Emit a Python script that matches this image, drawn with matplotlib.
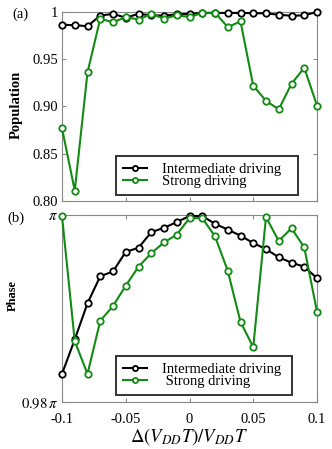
import matplotlib
matplotlib.use("Agg")
import matplotlib.pyplot as plt
import numpy as np

plt.rcParams['font.family'] = ['Liberation Serif', 'DejaVu Serif']
plt.rcParams['mathtext.fontset'] = 'stix'

x = [-0.10, -0.09, -0.08, -0.07, -0.06, -0.05, -0.04, -0.03, -0.02, -0.01, 0.0,
     0.01, 0.02, 0.03, 0.04, 0.05, 0.06, 0.07, 0.08, 0.09, 0.10]

pop_intermediate = [0.9866, 0.9860, 0.9850, 0.9962, 0.9980, 0.9940, 0.9980, 0.9965,
                    0.9962, 0.9975, 0.9980, 0.9990, 0.9990, 0.9990, 0.9990, 0.9988,
                    0.9985, 0.9972, 0.9960, 0.9965, 1.0000]
pop_strong = [0.877, 0.811, 0.936, 0.993, 0.989, 0.9947, 0.992, 0.998, 0.993, 0.9965,
              0.9947, 0.999, 0.9993, 0.984, 0.990, 0.922, 0.906, 0.897, 0.924, 0.941, 0.901]

# phase in units of pi
phase_intermediate = [0.9830, 0.98669, 0.99056, 0.99345, 0.99396, 0.99606, 0.99649,
                      0.99816, 0.99863, 0.99924, 0.99989, 0.99989, 0.99906, 0.99844,
                      0.99779, 0.99700, 0.99635, 0.99548, 0.99490, 0.99447, 0.99324]
phase_strong = [0.99989, 0.98651, 0.98300, 0.98868, 0.99027, 0.99244, 0.99447, 0.99591,
                0.99707, 0.99790, 0.99967, 0.99967, 0.99772, 0.99403, 0.98857, 0.98586,
                0.99978, 0.99722, 0.99859, 0.99653, 0.98966]

labels = ['Intermediate driving', 'Strong driving']
black = 'black'
green = '#138a13'

W, H = 332, 449
fig = plt.figure(figsize=(W/100, H/100), dpi=100)
ax1 = fig.add_axes([62/W, 1-201/H, 255/W, 189/H])
ax2 = fig.add_axes([62/W, 1-402/H, 255/W, 187/H])

mk = dict(marker='o', markersize=4.6, markerfacecolor='white', markeredgewidth=1.3, linewidth=1.5)

legend_specs = [
    (ax1, pop_intermediate, pop_strong, labels, (54/255, 6/189, 182/255, 0.2)),
    (ax2, phase_intermediate, phase_strong, [labels[0], ' ' + labels[1]], (54/255, 7/187, 176/255, 0.2)),
]
for ax, yi, ys, labs, bb in legend_specs:
    l1, = ax.plot(x, yi, color=black, markeredgecolor=black, clip_on=False, zorder=3, **mk)
    l2, = ax.plot(x, ys, color=green, markeredgecolor=green, clip_on=False, zorder=3, **mk)
    ax.set_xlim(-0.1, 0.1)
    ax.set_xticks([-0.1, -0.05, 0, 0.05, 0.1])
    for s in ax.spines.values():
        s.set_color('#888888')
        s.set_linewidth(0.8)
    ax.tick_params(direction='in', top=True, right=True, color='#888888', length=3,
                   labelsize=10.5)
    ax.tick_params(axis='x', pad=8)
    ax.tick_params(axis='y', pad=3)
    leg = ax.legend([l1, l2], labs, loc='lower left', bbox_to_anchor=bb, mode='expand',
                    fontsize=10.5, frameon=True, fancybox=False,
                    markerscale=0.8, handlelength=1.7, borderpad=0.45, labelspacing=-0.05,
                    handletextpad=1.0, borderaxespad=0)
    leg.get_frame().set_edgecolor('black')
    leg.get_frame().set_linewidth(1.4)
    leg.set_zorder(5)

ax1.set_ylim(0.80, 1.0)
ax1.set_yticks([0.80, 0.85, 0.90, 0.95, 1.0])
ax1.set_yticklabels(['0.80', '0.85', '0.90', '0.95', '1'])
ax1.set_xticklabels([])
ax1.set_ylabel('Population', fontweight='bold', fontsize=10.5)
ax1.yaxis.set_label_coords(-0.155, 0.51)

ax2.set_ylim(0.98, 1.0)
ax2.set_yticks([0.98, 1.0])
ax2.set_yticklabels([r'$0.98\,\pi$', r'$\pi$'])
ax2.set_xticklabels(['-0.1', '-0.05', '0', '0.05', '0.1'])
ax2.set_ylabel('Phase', fontweight='bold', fontsize=9)
ax2.yaxis.set_label_coords(-0.17, 0.567)
ax2.set_xlabel(r'$\Delta(V_{DD}T)/V_{DD}T$', fontsize=13.5, labelpad=0)

fig.text(12/W, 1-14/H, '(a)', fontsize=10.5, va='center', ha='left')
fig.text(7/W, 1-218/H, '(b)', fontsize=10.5, va='center', ha='left')

fig.savefig('out.png', dpi=100)
